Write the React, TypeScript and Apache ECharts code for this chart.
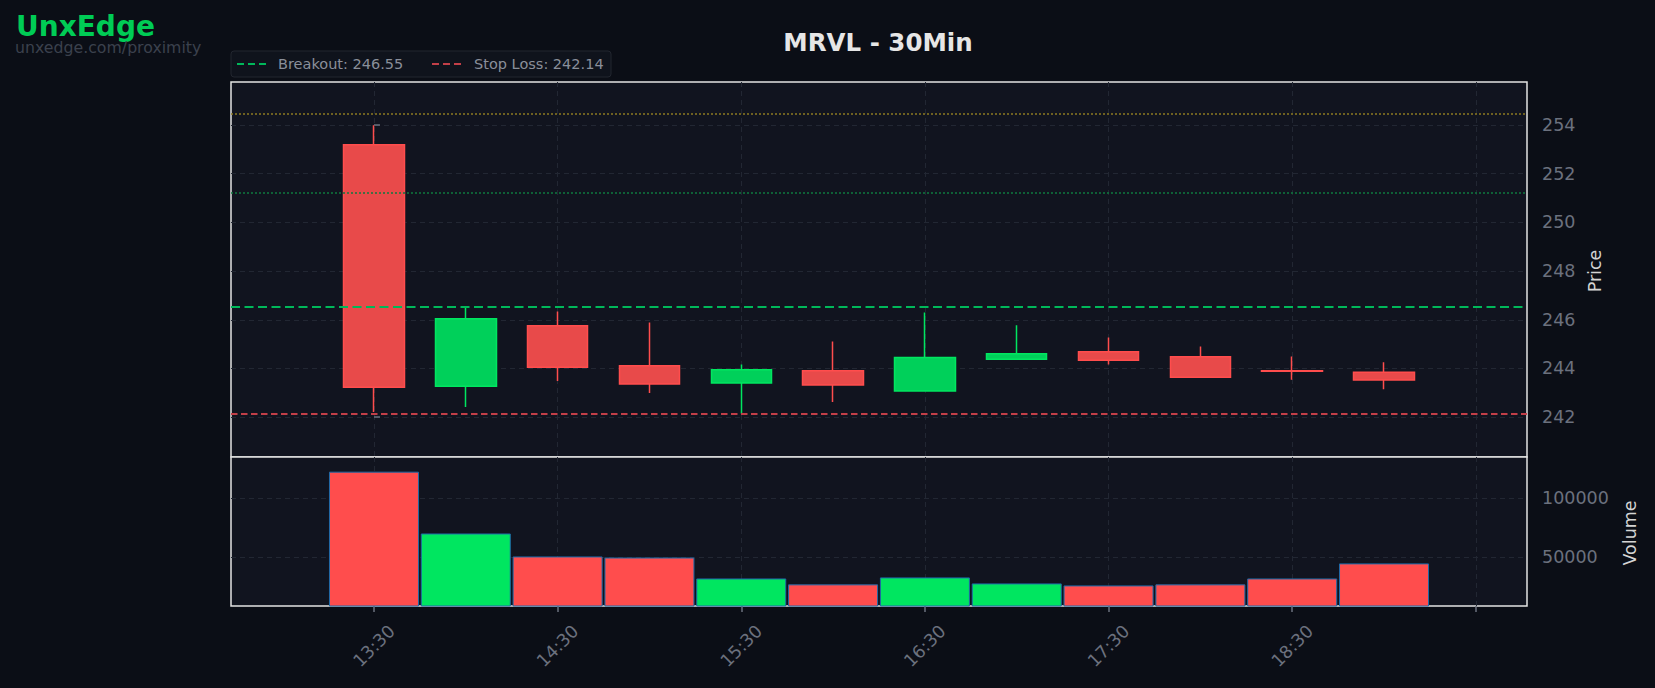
import React, { useEffect, useRef } from 'react';
import * as echarts from 'echarts';

const times = ['13:30', '14:00', '14:30', '15:00', '15:30', '16:00', '16:30', '17:00', '17:30', '18:00', '18:30', '19:00', '19:30'];
const opens = [253.19, 243.27, 245.75, 244.11, 243.40, 243.90, 243.07, 244.38, 244.68, 244.48, 243.90, 243.84];
const closes = [243.23, 246.04, 244.05, 243.36, 243.95, 243.32, 244.45, 244.60, 244.34, 243.64, 243.88, 243.52];
const lows = [242.21, 242.41, 243.48, 242.99, 242.14, 242.62, 243.07, 244.38, 244.16, 243.64, 243.53, 243.14];
const highs = [253.99, 246.53, 246.34, 245.89, 244.16, 245.11, 246.30, 245.77, 245.27, 244.90, 244.49, 244.25];
const volumes = [122300, 69800, 50300, 49400, 31600, 26600, 32500, 27400, 25700, 26600, 31600, 44400];
const breakout = 246.55;
const stopLoss = 242.14;
const upperLevel = 254.45;
const midLevel = 251.21;
const priceTicks = [242, 244, 246, 248, 250, 252, 254];
const volumeTicks = [50000, 100000];
const xTickIdx = [0, 2, 4, 6, 8, 10, 12];
const xLabelIdx = [0, 2, 4, 6, 8, 10];

const FONT = 'DejaVu Sans';
const GRID_LINE = '#222733';
const TICK_COLOR = '#6b717e';

export default function App() {
  const ref = useRef<HTMLDivElement>(null);
  useEffect(() => {
    document.body.style.margin = '0';
    document.body.style.background = '#0b0e16';
    const chart = echarts.init(ref.current!, null, { renderer: 'svg' });
    const candleData = opens.map((o, i) => [i, o, closes[i], lows[i], highs[i]]);
    const volData = volumes.map((v, i) => ({
      value: [i, v],
      itemStyle: { color: closes[i] >= opens[i] ? '#00e660' : '#ff4d4d' },
    }));
    const xMin = -1.557;
    const xMax = 12.557;
    const splitDash = { color: GRID_LINE, width: 1, type: [5, 4] as any };
    const option: any = {
      animation: false,
      backgroundColor: '#0b0e16',
      textStyle: { fontFamily: FONT },
      grid: [
        { left: 231, right: 128, top: 82, height: 375, show: true, backgroundColor: '#11141f', borderColor: '#e4e4e4', borderWidth: 1.5 },
        { left: 231, right: 128, top: 457, height: 149, show: true, backgroundColor: '#11141f', borderColor: '#e4e4e4', borderWidth: 1.5 },
      ],
      xAxis: [
        {
          type: 'value', gridIndex: 0, min: xMin, max: xMax,
          axisLine: { show: false },
          axisTick: { show: false, customValues: xTickIdx },
          axisLabel: { show: false, customValues: xLabelIdx },
          splitLine: { show: true, lineStyle: splitDash },
        },
        {
          type: 'value', gridIndex: 1, min: xMin, max: xMax,
          axisLine: { show: false },
          axisTick: { show: true, length: 6, customValues: xTickIdx, lineStyle: { color: TICK_COLOR, width: 1.5 } },
          axisLabel: {
            show: true, customValues: xLabelIdx, rotate: 45, align: 'center', verticalAlign: 'middle', margin: 40,
            color: TICK_COLOR, fontSize: 17.5, fontFamily: FONT,
            formatter: (v: number) => times[Math.round(v)] ?? '',
          },
          splitLine: { show: true, lineStyle: splitDash },
        },
      ],
      yAxis: [
        {
          type: 'value', gridIndex: 0, position: 'right', min: 240.36, max: 255.77, scale: true,
          axisLine: { show: false },
          axisTick: { show: true, length: 6, customValues: priceTicks, lineStyle: { color: TICK_COLOR, width: 1.5 } },
          axisLabel: { customValues: priceTicks, margin: 15, color: TICK_COLOR, fontSize: 17.5, fontFamily: FONT, formatter: (v: number) => String(v) },
          splitLine: { show: true, lineStyle: splitDash },
        },
        {
          type: 'value', gridIndex: 1, position: 'right', min: 8220, max: 134750,
          axisLine: { show: false },
          axisTick: { show: true, length: 6, customValues: volumeTicks, lineStyle: { color: TICK_COLOR, width: 1.5 } },
          axisLabel: { customValues: volumeTicks, margin: 15, color: TICK_COLOR, fontSize: 17.5, fontFamily: FONT, formatter: (v: number) => String(Math.round(v)) },
          splitLine: { show: true, lineStyle: splitDash },
        },
      ],
      series: [
        {
          type: 'candlestick',
          xAxisIndex: 0, yAxisIndex: 0,
          data: candleData,
          encode: { x: 0, y: [1, 2, 3, 4] },
          barWidth: 61,
          itemStyle: {
            color: '#00d05a', color0: '#e84a4a',
            borderColor: '#00e660', borderColor0: '#ff4d4d', borderWidth: 1.5,
          },
          markLine: {
            silent: true, symbol: 'none', label: { show: false },
            data: [
              { yAxis: upperLevel, lineStyle: { color: '#8c7a22', width: 1.5, type: [2, 2] } },
              { yAxis: midLevel, lineStyle: { color: '#0f7a40', width: 1.5, type: [2, 2] } },
              { yAxis: breakout, lineStyle: { color: '#00b85a', width: 2, type: [9, 4.5] } },
              { yAxis: stopLoss, lineStyle: { color: '#c23f48', width: 2, type: [6.5, 3.5] } },
            ],
          },
        },
        {
          type: 'bar',
          xAxisIndex: 1, yAxisIndex: 1,
          data: volData,
          barWidth: 90,
          itemStyle: { borderColor: '#1f6aa8', borderWidth: 1 },
        },
      ],
      graphic: [
        { type: 'text', x: 878, y: 42, style: { text: 'MRVL - 30Min', fontFamily: FONT, fontSize: 24.5, fontWeight: 'bold', fill: '#e6e6e6', align: 'center', verticalAlign: 'middle' } },
        { type: 'text', x: 16, y: 26, style: { text: 'UnxEdge', fontFamily: FONT, fontSize: 28, fontWeight: 'bold', fill: '#00cc55', align: 'left', verticalAlign: 'middle' } },
        { type: 'text', x: 15, y: 47, style: { text: 'unxedge.com/proximity', fontFamily: FONT, fontSize: 15.75, fill: '#3b414d', align: 'left', verticalAlign: 'middle' } },
        { type: 'rect', shape: { x: 231, y: 51, width: 380, height: 26, r: 3 }, style: { fill: '#0f131c', stroke: '#22262f', lineWidth: 1 } },
        { type: 'line', shape: { x1: 237, y1: 64, x2: 266, y2: 64 }, style: { stroke: '#00b85a', lineWidth: 2, lineDash: [7, 4] } },
        { type: 'text', x: 278, y: 64, style: { text: 'Breakout: 246.55', fontFamily: FONT, fontSize: 14.5, fill: '#8a8f9a', align: 'left', verticalAlign: 'middle' } },
        { type: 'line', shape: { x1: 432, y1: 64, x2: 463, y2: 64 }, style: { stroke: '#c23f48', lineWidth: 2, lineDash: [7, 4] } },
        { type: 'text', x: 474, y: 64, style: { text: 'Stop Loss: 242.14', fontFamily: FONT, fontSize: 14.5, fill: '#8a8f9a', align: 'left', verticalAlign: 'middle' } },
        { type: 'text', x: 1595, y: 271, rotation: Math.PI / 2, style: { text: 'Price', fontFamily: FONT, fontSize: 17.5, fill: '#d4d4d4', align: 'center', verticalAlign: 'middle' } },
        { type: 'text', x: 1630, y: 533, rotation: Math.PI / 2, style: { text: 'Volume', fontFamily: FONT, fontSize: 17.5, fill: '#d4d4d4', align: 'center', verticalAlign: 'middle' } },
      ],
    };
    chart.setOption(option);
    return () => chart.dispose();
  }, []);
  return <div ref={ref} style={{ width: 1655, height: 688 }} />;
}
